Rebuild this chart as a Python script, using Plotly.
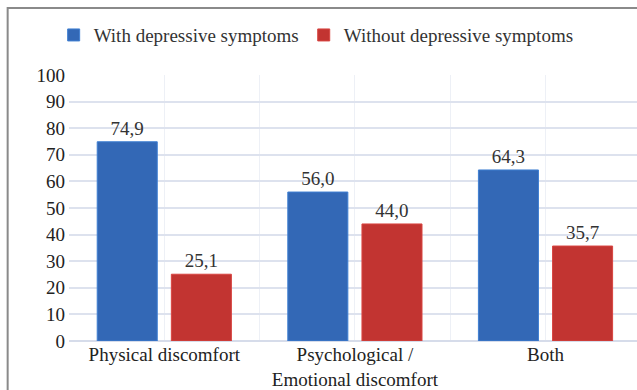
import plotly.graph_objects as go

# Share of respondents (%) by type of discomfort
categories = ["Physical discomfort", "Psychological /<br>Emotional discomfort", "Both"]
with_symptoms = [74.9, 56.0, 64.3]
without_symptoms = [25.1, 44.0, 35.7]
series_names = ["With depressive symptoms", "Without depressive symptoms"]
y_ticks = [0, 10, 20, 30, 40, 50, 60, 70, 80, 90, 100]

FONT = "Times New Roman"
BLUE = "#3368b6"
RED = "#c23431"


def fmt(v):
    return f"{v:.1f}".replace(".", ",")


x_pos = list(range(len(categories)))
bar_w = 0.315

fig = go.Figure()
fig.add_trace(go.Bar(
    x=x_pos, y=with_symptoms, name=series_names[0],
    width=bar_w, offset=-0.352,
    marker=dict(color=BLUE, line=dict(color="#3f7fd2", width=1)),
    text=[fmt(v) for v in with_symptoms], textposition="outside",
    textfont=dict(family=FONT, size=19, color="#333333"),
    cliponaxis=False,
))
fig.add_trace(go.Bar(
    x=x_pos, y=without_symptoms, name=series_names[1],
    width=bar_w, offset=0.037,
    marker=dict(color=RED, line=dict(color="#d84440", width=1)),
    text=[fmt(v) for v in without_symptoms], textposition="outside",
    textfont=dict(family=FONT, size=19, color="#333333"),
    cliponaxis=False,
))

fig.update_layout(
    width=637, height=390,
    margin=dict(l=69, r=0, t=75, b=49, autoexpand=False),
    paper_bgcolor="white", plot_bgcolor="white",
    barmode="overlay",
    font=dict(family=FONT, size=19, color="#222222"),
    showlegend=True,
    legend=dict(
        orientation="h", x=-0.027, y=1.15, xanchor="left", yanchor="middle",
        font=dict(family=FONT, size=19, color="#333333"),
        itemwidth=30, traceorder="normal", bgcolor="rgba(0,0,0,0)",
    ),
    xaxis=dict(
        range=[-0.5, 2.48], automargin=False,
        tickmode="array", tickvals=x_pos, ticktext=categories,
        showgrid=True, gridcolor="#edf0f6", gridwidth=1,
        minor=dict(tickmode="array", tickvals=[0.5, 1.5], showgrid=True,
                   gridcolor="#edf0f6", gridwidth=1, ticks=""),
        showline=False, zeroline=False, ticks="", ticklabelstandoff=0,
        tickfont=dict(family=FONT, size=19, color="#222222"),
    ),
    yaxis=dict(
        range=[0, 100], automargin=False,
        tickmode="array", tickvals=y_ticks,
        showgrid=True, gridcolor="#dde2ee", gridwidth=1.5,
        zeroline=True, zerolinecolor="#d6dcea", zerolinewidth=1.5,
        showline=False, ticks="", ticklabelstandoff=3,
        tickfont=dict(family=FONT, size=19, color="#222222"),
    ),
    shapes=[dict(
        type="rect", xref="paper", yref="paper",
        x0=-0.108, x1=1.05, y0=-0.3, y1=1.252,
        line=dict(color="#8a8a8a", width=2), fillcolor="rgba(0,0,0,0)",
        layer="below",
    )],
)

fig.write_html("out.html")
